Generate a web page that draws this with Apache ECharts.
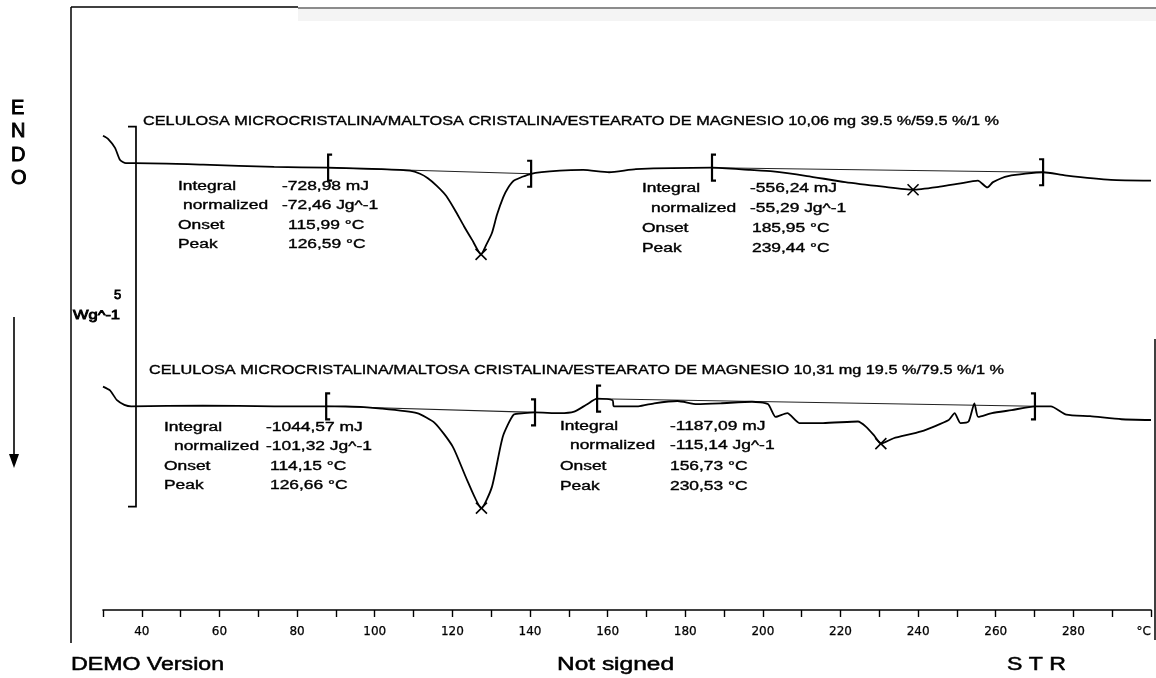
<!DOCTYPE html>
<html><head><meta charset="utf-8">
<script src="https://cdn.jsdelivr.net/npm/echarts@6/dist/echarts.min.js"></script>
<style>html,body{margin:0;padding:0;background:#fff}#c{width:1156px;height:678px}</style>
</head><body><div id="c"></div>
<script>
// ---- DATA ----
// Temperature (°C) and heat flow (W/g, curves stacked for display)
const curve1T = [30.0, 31.3, 33.1, 34.4, 35.9, 38.2, 55.8, 74.1, 88.0, 101.6, 109.1, 111.7, 113.7, 116.0, 118.4, 120.7, 123.0, 125.1, 127.4, 128.7, 130.2, 131.5, 133.1, 134.3, 135.9, 140.3, 147.7, 153.7, 160.4, 167.3, 186.9, 196.7, 202.6, 211.4, 221.2, 231.0, 238.7, 245.6, 250.5, 255.4, 257.8, 259.3, 263.2, 272.2, 277.8, 289.7, 300.0];
const curve1V = [6.24, 6.20, 6.08, 5.92, 5.88, 5.88, 5.86, 5.83, 5.82, 5.80, 5.78, 5.74, 5.68, 5.58, 5.45, 5.26, 5.05, 4.87, 4.68, 4.80, 4.96, 5.20, 5.43, 5.55, 5.65, 5.74, 5.78, 5.79, 5.76, 5.80, 5.82, 5.79, 5.77, 5.71, 5.63, 5.57, 5.53, 5.57, 5.61, 5.65, 5.56, 5.63, 5.71, 5.76, 5.72, 5.66, 5.65];
const curve2T = [30.0, 31.8, 33.6, 35.5, 37.3, 55.7, 74.1, 87.5, 92.5, 101.7, 110.9, 115.5, 120.1, 123.8, 127.5, 130.2, 133.0, 135.8, 138.5, 141.3, 147.7, 151.4, 154.5, 157.3, 161.3, 161.6, 167.9, 172.0, 178.0, 183.0, 189.1, 197.2, 201.3, 203.3, 206.3, 209.4, 215.5, 224.5, 226.6, 228.6, 230.4, 233.7, 240.8, 247.9, 249.4, 250.9, 253.0, 254.5, 255.5, 259.0, 264.1, 270.1, 274.2, 278.2, 284.3, 292.4, 300.0];
const curve2V = [2.94, 2.89, 2.76, 2.70, 2.68, 2.69, 2.68, 2.68, 2.68, 2.65, 2.59, 2.46, 2.15, 1.71, 1.34, 1.62, 2.28, 2.57, 2.59, 2.60, 2.59, 2.61, 2.70, 2.78, 2.76, 2.68, 2.68, 2.72, 2.75, 2.71, 2.72, 2.74, 2.71, 2.54, 2.59, 2.46, 2.46, 2.48, 2.41, 2.30, 2.19, 2.26, 2.35, 2.50, 2.59, 2.46, 2.48, 2.72, 2.54, 2.59, 2.63, 2.68, 2.68, 2.57, 2.55, 2.51, 2.50];
// integration limits (pairs: start, end)
const limitT = [88.0, 140.3, 186.9, 272.2, 87.5, 141.3, 157.3, 270.1];
const limitV = [5.82, 5.74, 5.82, 5.76, 2.68, 2.60, 2.78, 2.68];
// peak markers
const peakT = [127.4, 238.7, 127.5, 230.4];
const peakV = [4.68, 5.53, 1.34, 2.19];
// scale bar (W/g)
const scaleBarT = 38.5, scaleBarBottom = 1.36, scaleBarLength = 5;
const scaleBarLabel = ['5', 'Wg^-1'];
// axis
const xTickValues = [40, 60, 80, 100, 120, 140, 160, 180, 200, 220, 240, 260, 280];
const xUnitLabel = '°C';
// texts
const titles = [
  'CELULOSA MICROCRISTALINA/MALTOSA CRISTALINA/ESTEARATO DE MAGNESIO 10,06 mg 39.5 %/59.5 %/1 %',
  'CELULOSA MICROCRISTALINA/MALTOSA CRISTALINA/ESTEARATO DE MAGNESIO 10,31 mg 19.5 %/79.5 %/1 %'
];
const resultLabels = ['Integral', 'normalized', 'Onset', 'Peak'];
const resultValues = [
  ['-728,98 mJ', '-72,46 Jg^-1', '115,99 °C', '126,59 °C'],
  ['-556,24 mJ', '-55,29 Jg^-1', '185,95 °C', '239,44 °C'],
  ['-1044,57 mJ', '-101,32 Jg^-1', '114,15 °C', '126,66 °C'],
  ['-1187,09 mJ', '-115,14 Jg^-1', '156,73 °C', '230,53 °C']
];
const sideLetters = ['E', 'N', 'D', 'O'];
const footer = ['DEMO Version', 'Not signed', 'S T R'];

// ---- LAYOUT ----
const FAM = '"Liberation Sans", Arial, sans-serif';
const ctx = document.createElement('canvas').getContext('2d');
function tw(t, size) { ctx.font = size + 'px ' + FAM; return ctx.measureText(t).width; }
function txt(t, x, y, size, opts) {
  opts = opts || {};
  let sx = opts.scaleX || 1;
  if (opts.width) sx = opts.width / tw(t, size);
  return { type: 'text', x: x, y: y, scaleX: sx, z: 10,
    style: { text: t, fontSize: size, fontFamily: FAM, fill: '#000',
      stroke: '#000', lineWidth: opts.thick === undefined ? 0.35 : opts.thick,
      align: opts.align || 'left', verticalAlign: 'middle' } };
}
const blocks = [
  { lx: 178, indent: 5, vx: 282, tOff: 6, rows: [187, 206, 226, 245] },
  { lx: 642, indent: 9, vx: 750, tOff: 2, rows: [189, 209, 229, 249] },
  { lx: 164, indent: 10, vx: 266, tOff: 4, rows: [428, 447, 467, 486] },
  { lx: 560, indent: 10, vx: 670, tOff: 0, rows: [427, 446, 467, 487] }
];
const STRETCH = 1.45, FS = 12;
const g = [];
// frame
g.push({ type: 'line', shape: { x1: 71, y1: 7, x2: 71, y2: 643 }, style: { stroke: '#000', lineWidth: 1.5 } });
g.push({ type: 'line', shape: { x1: 71, y1: 7, x2: 298, y2: 7 }, style: { stroke: '#000', lineWidth: 1.5 } });
g.push({ type: 'rect', shape: { x: 298, y: 9, width: 858, height: 12 }, style: { fill: '#f4f4f4' } });
g.push({ type: 'line', shape: { x1: 298, y1: 8, x2: 1156, y2: 8 }, style: { stroke: '#8c8c8c', lineWidth: 2 } });
g.push({ type: 'line', shape: { x1: 1155, y1: 339, x2: 1155, y2: 640 }, style: { stroke: '#000', lineWidth: 1.5 } });
// ENDO + arrow
sideLetters.forEach((c, i) => g.push(txt(c, 11, 108 + i * 23.5, 20, { thick: 0.9 })));
g.push({ type: 'line', shape: { x1: 14, y1: 317, x2: 14, y2: 458 }, style: { stroke: '#000', lineWidth: 1.6 } });
g.push({ type: 'polygon', shape: { points: [[9, 454], [19, 454], [14, 468]] }, style: { fill: '#000' } });
// scale bar label
g.push(txt(scaleBarLabel[0], 114, 295, 13, { thick: 0.8 }));
g.push(txt(scaleBarLabel[1], 73, 316, 12, { width: 47, thick: 0.8 }));
// titles
g.push(txt(titles[0], 143, 122, 12.5, { width: 856 }));
g.push(txt(titles[1], 149, 371, 12.5, { width: 855 }));
// result blocks
blocks.forEach((b, k) => {
  resultLabels.forEach((lab, r) => {
    g.push(txt(lab, b.lx + (r === 1 ? b.indent : 0), b.rows[r], FS, { scaleX: STRETCH }));
    g.push(txt(resultValues[k][r], b.vx + (r >= 2 ? b.tOff : 0), b.rows[r], FS, { scaleX: STRETCH }));
  });
});
// footer
g.push(txt(footer[0], 71, 665, 18, { width: 153, thick: 0.5 }));
g.push(txt(footer[1], 557, 665, 18, { width: 117, thick: 0.5 }));
g.push(txt(footer[2], 1007, 665, 18, { width: 59, thick: 0.5 }));

const zip = (a, b) => a.map((v, i) => [v, b[i]]);
const series = [
  { type: 'line', data: zip(curve1T, curve1V), symbol: 'none', smooth: 0.2, lineStyle: { color: '#000', width: 1.8 }, z: 3 },
  { type: 'line', data: zip(curve2T, curve2V), symbol: 'none', smooth: 0.2, lineStyle: { color: '#000', width: 1.8 }, z: 3 }
];
for (let i = 0; i < limitT.length; i += 2) {
  series.push({ type: 'line', data: [[limitT[i], limitV[i]], [limitT[i + 1], limitV[i + 1]]], symbol: 'none',
    lineStyle: { color: '#222', width: 1.1 }, z: 2 });
}
series.push({
  type: 'custom', data: limitT.map((t, i) => [t, limitV[i], i % 2 === 0 ? 1 : -1]), z: 4,
  renderItem: (p, api) => {
    const c = api.coord([api.value(0), api.value(1)]); const d = api.value(2) * 4, h = 13;
    return { type: 'polyline', shape: { points: [[c[0] + d, c[1] - h], [c[0], c[1] - h], [c[0], c[1] + h], [c[0] + d, c[1] + h]] },
      style: { stroke: '#000', lineWidth: 2.2, fill: 'none' } };
  }
});
series.push({
  type: 'custom', data: zip(peakT, peakV), z: 4,
  renderItem: (p, api) => {
    const c = api.coord([api.value(0), api.value(1)]); const s = 5.5;
    return { type: 'group', children: [
      { type: 'line', shape: { x1: c[0] - s, y1: c[1] - s, x2: c[0] + s, y2: c[1] + s }, style: { stroke: '#000', lineWidth: 1.6 } },
      { type: 'line', shape: { x1: c[0] - s, y1: c[1] + s, x2: c[0] + s, y2: c[1] - s }, style: { stroke: '#000', lineWidth: 1.6 } }
    ] };
  }
});
series.push({
  type: 'custom', data: [[scaleBarT, scaleBarBottom, scaleBarBottom + scaleBarLength]], z: 4,
  renderItem: (p, api) => {
    const b = api.coord([api.value(0), api.value(1)]); const t = api.coord([api.value(0), api.value(2)]);
    return { type: 'polyline', shape: { points: [[b[0] - 8, t[1]], [b[0], t[1]], [b[0], b[1]], [b[0] - 8, b[1]]] },
      style: { stroke: '#000', lineWidth: 1.7, fill: 'none' } };
  }
});

const chart = echarts.init(document.getElementById('c'), null, { renderer: 'canvas' });
chart.setOption({
  animation: false,
  backgroundColor: '#fff',
  grid: { left: 103, right: 5, top: 2, bottom: 68 },
  xAxis: {
    type: 'value', min: 30, max: 300, interval: 10,
    axisLine: { lineStyle: { color: '#000', width: 1.6 } },
    axisTick: { length: 7, lineStyle: { color: '#000', width: 1.4 } },
    splitLine: { show: false },
    axisLabel: {
      margin: 16, color: '#000', fontSize: 12, fontFamily: '"DejaVu Sans", sans-serif', alignMaxLabel: 'right',
      textBorderColor: '#000', textBorderWidth: 0.25,
      formatter: v => v === 300 ? xUnitLabel : (xTickValues.indexOf(v) >= 0 ? String(v) : '')
    }
  },
  yAxis: { type: 'value', min: 0, max: 8, show: false },
  series: series,
  graphic: { elements: g }
});
</script></body></html>
